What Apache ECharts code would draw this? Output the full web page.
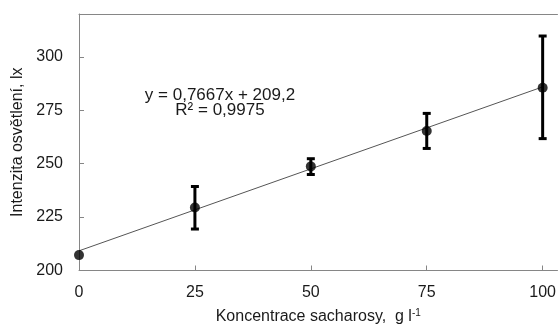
<!DOCTYPE html>
<html>
<head>
<meta charset="utf-8">
<script src="https://cdn.jsdelivr.net/npm/echarts@6/dist/echarts.min.js"></script>
<style>
  html, body { margin: 0; padding: 0; background: #fff; }
  #main { width: 559px; height: 330px; }
</style>
</head>
<body>
<div id="main"></div>
<script>
// koncentrace sacharosy (g/l) a namerene hodnoty
const concentrations = [0, 25, 50, 75, 100];
const meanValues = [207.2, 229.5, 248.7, 265.3, 285.5];
const errLow = [207.2, 219.4, 244.9, 257.1, 261.7];
const errHigh = [207.2, 239.3, 252.3, 273.5, 309.7];
// linearni trend
const trendX = [0, 100];
const trendY = [209.2, 285.9];
const xTicks = [0, 25, 50, 75, 100];
const yTicks = [200, 225, 250, 275, 300];

let myChart = echarts.init(document.getElementById('main'));

const axisColor = '#868686';
const labelFont = 'Liberation Sans, Arial, sans-serif';

myChart.setOption({
  animation: false,
  grid: { left: 79, right: 0, top: 14, bottom: 57 },
  xAxis: [{
    type: 'value',
    min: 0,
    max: 103.2,
    interval: 25,
    axisLine: { show: true, lineStyle: { color: axisColor, width: 1 } },
    axisTick: { show: true, inside: true, length: 5, lineStyle: { color: axisColor } },
    splitLine: { show: false },
    axisLabel: {
      color: '#1a1a1a', fontSize: 16, fontFamily: labelFont, margin: 14,
      showMaxLabel: false,
      formatter: v => xTicks.indexOf(v) >= 0 ? String(v) : ''
    },
    name: '{a|Koncentrace sacharosy,  g l}{s|-1}',
    nameLocation: 'middle',
    nameGap: 38,
    nameTextStyle: {
      rich: {
        a: { fontSize: 16, color: '#1a1a1a', fontFamily: labelFont },
        s: { fontSize: 10, color: '#1a1a1a', fontFamily: labelFont, verticalAlign: 'top', padding: [0, 0, 7, 0] }
      }
    }
  }, {
    type: 'value',
    position: 'top',
    min: 0,
    max: 103.2,
    axisLine: { show: true, onZero: false, lineStyle: { color: axisColor, width: 1 } },
    axisTick: { show: false },
    axisLabel: { show: false },
    splitLine: { show: false }
  }],
  yAxis: {
    type: 'value',
    min: 200,
    max: 320,
    interval: 25,
    axisLine: { show: true, lineStyle: { color: axisColor, width: 1 } },
    axisTick: { show: true, inside: true, length: 5, lineStyle: { color: axisColor } },
    splitLine: { show: false },
    axisLabel: {
      color: '#1a1a1a', fontSize: 16, fontFamily: labelFont, margin: 16,
      formatter: v => yTicks.indexOf(v) >= 0 ? String(v) : ''
    },
    name: 'Intenzita osvětlení, lx',
    nameLocation: 'middle',
    nameGap: 51,
    nameTextStyle: { fontSize: 16, color: '#1a1a1a', fontFamily: labelFont }
  },
  graphic: [{
    type: 'text',
    x: 220,
    y: 88,
    style: {
      text: 'y = 0,7667x + 209,2\nR² = 0,9975',
      font: '17px ' + labelFont,
      fill: '#1a1a1a',
      align: 'center',
      lineHeight: 15
    }
  }],
  series: [{
    name: 'trend',
    type: 'line',
    data: trendX.map((x, i) => [x, trendY[i]]),
    showSymbol: false,
    lineStyle: { color: '#555', width: 1 },
    z: 1
  }, {
    name: 'chyby',
    type: 'custom',
    data: concentrations.map((x, i) => [x, errLow[i], errHigh[i]]),
    renderItem: function (params, api) {
      const lo = api.coord([api.value(0), api.value(1)]);
      const hi = api.coord([api.value(0), api.value(2)]);
      if (Math.abs(hi[1] - lo[1]) < 1) return null;
      const w = 4;
      const st = { stroke: '#000', lineWidth: 3 };
      return {
        type: 'group',
        children: [
          { type: 'line', shape: { x1: lo[0], y1: lo[1], x2: hi[0], y2: hi[1] }, style: st },
          { type: 'line', shape: { x1: lo[0] - w, y1: lo[1], x2: lo[0] + w, y2: lo[1] }, style: st },
          { type: 'line', shape: { x1: hi[0] - w, y1: hi[1], x2: hi[0] + w, y2: hi[1] }, style: st }
        ]
      };
    },
    z: 2
  }, {
    name: 'mereni',
    type: 'scatter',
    data: concentrations.map((x, i) => [x, meanValues[i]]),
    symbol: 'circle',
    symbolSize: 10,
    itemStyle: { color: '#000' },
    z: 3
  }]
});
</script>
</body>
</html>
